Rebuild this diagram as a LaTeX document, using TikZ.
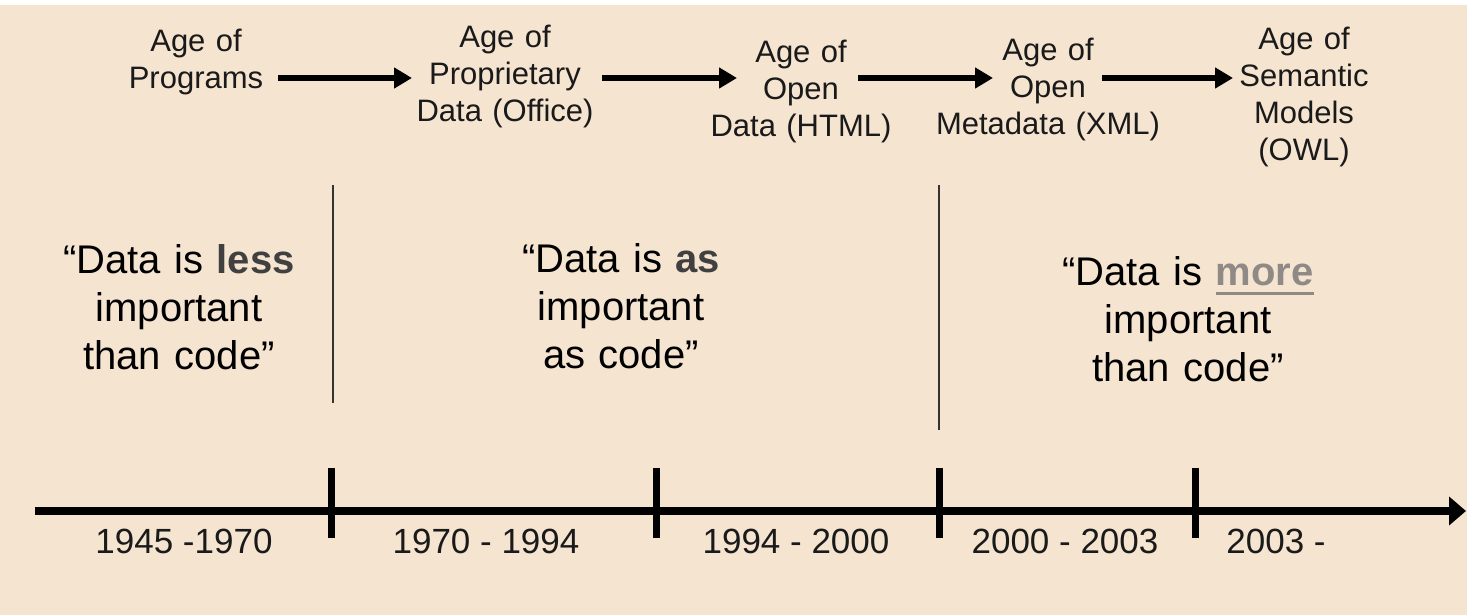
\documentclass[tikz,border=0pt]{standalone}
\usepackage{fontspec}
\setmainfont{Liberation Sans}
\usetikzlibrary{arrows.meta,calc}

\definecolor{paper}{HTML}{F5E4D0}
\definecolor{ink}{HTML}{1A1A1A}
\definecolor{strong}{HTML}{404040}
\definecolor{faded}{HTML}{8F8A85}

% a heavy underline drawn as a rule below the word
\newsavebox\ulbox
\newcommand\heavyul[1]{\sbox\ulbox{#1}\rlap{\raisebox{-9.5pt}{\rule{\wd\ulbox}{3pt}}}\usebox\ulbox}

\begin{document}
\begin{tikzpicture}[x=1pt,y=-1pt,
  age/.style={anchor=base, inner sep=0pt, text width=240pt, align=center,
    text=ink, font=\fontsize{31}{37}\selectfont},
  quote/.style={anchor=base, inner sep=0pt, text width=300pt, align=center,
    text=black, font=\fontsize{40}{48}\selectfont},
  span/.style={anchor=base, inner sep=0pt, text=ink, font=\fontsize{35}{42}\selectfont},
  flow/.style={line width=6pt, -{Triangle[length=18pt,width=20pt]}},
  axis/.style={line width=8pt, -{Triangle[length=17pt,width=28pt]}},
  tickmark/.style={line width=7pt},
  divider/.style={line width=2pt, draw=black!80},
]
% page and background
\fill[white] (0,0) rectangle (1467,615);
\fill[paper] (0,5) rectangle (1467,615);
\useasboundingbox (0,0) rectangle (1467,615);

% the ages
\node[age] (lab1) at (196,52)  {Age of\\Programs};
\node[age] (lab2) at (505,48)  {Age of\\Proprietary\\Data (Office)};
\node[age] (lab3) at (801,63)  {Age of\\Open\\Data (HTML)};
\node[age] (lab4) at (1048,61) {Age of\\Open\\Metadata (XML)};
\node[age] (lab5) at (1304,50) {Age of\\Semantic\\Models\\(OWL)};

% arrows between the ages
\coordinate (ay) at (0,78);
\draw[flow] ($(lab1.base |- ay)+(82,0)$) -- ($(lab2.base |- ay)+(-93,0)$);
\draw[flow] ($(lab2.base |- ay)+(97,0)$) -- ($(lab3.base |- ay)+(-64,0)$);
\draw[flow] ($(lab3.base |- ay)+(57,0)$) -- ($(lab4.base |- ay)+(-55,0)$);
\draw[flow] ($(lab4.base |- ay)+(54,0)$) -- ($(lab5.base |- ay)+(-71,0)$);

% era dividers
\draw[divider] (333,185) -- (333,403);
\draw[divider] (939,185) -- (939,430);

% statements
\node[quote] (q1) at (179,273) {“Data is {\bfseries\color{strong}less}\\important\\than code”};
\node[quote] (q2) at (621,272) {“Data is {\bfseries\color{strong}as}\\important\\as code”};
\node[quote] (q3) at (1188,285) {“Data is {\bfseries\color{faded}\heavyul{more}}\\important\\than code”};

% time axis
\coordinate (t0) at (35,511);
\coordinate (t1) at (1466,511);
\draw[axis] (t0) -- (t1);
\foreach \x in {331,656,939,1195}
  \draw[tickmark] (\x,468) -- (\x,538);

% periods
\node[span] (y1) at (184,553)  {1945 -1970};
\node[span] (y2) at (486,553)  {1970 - 1994};
\node[span] (y3) at (796,553)  {1994 - 2000};
\node[span] (y4) at (1065,553) {2000 - 2003};
\node[span] (y5) at (1276,553) {2003 -};
\end{tikzpicture}
\end{document}
